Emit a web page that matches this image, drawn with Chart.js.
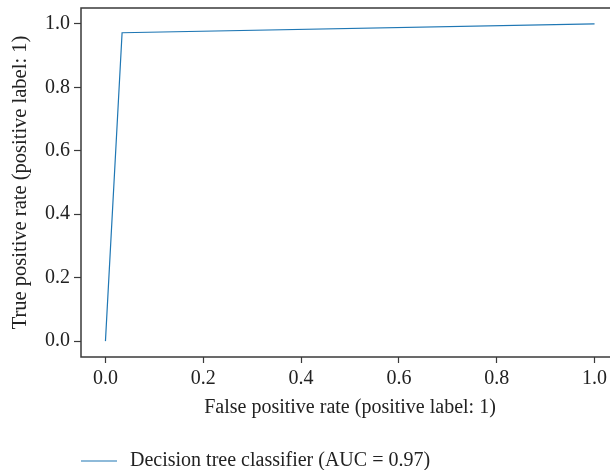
<!DOCTYPE html>
<html>
<head>
<meta charset="utf-8">
<script src="https://cdn.jsdelivr.net/npm/chart.js@4/dist/chart.umd.min.js"></script>
<style>
  html, body { margin: 0; padding: 0; background: #fff; overflow: hidden; }
  #wrap { position: relative; width: 640px; height: 470px; }
</style>
</head>
<body>
<div id="wrap"><canvas id="roc"></canvas></div>
<script>
// ROC curve points
const fpr = [0.0, 0.034, 1.0];
const tpr = [0.0, 0.972, 1.0];
const tickValues = [0.0, 0.2, 0.4, 0.6, 0.8, 1.0];
const seriesLabel = 'Decision tree classifier (AUC = 0.97)';

const serif = "'Liberation Serif', 'DejaVu Serif', serif";
const spineColor = '#3a3a3a';
const textColor = '#222';

// box around the plot area
const frame = {
    id: 'frame',
    afterDatasetsDraw(chart) {
        const a = chart.chartArea, ctx = chart.ctx;
        ctx.save();
        ctx.strokeStyle = spineColor;
        ctx.lineWidth = 1.5;
        ctx.strokeRect(a.left, a.top, a.right - a.left, a.bottom - a.top);
        ctx.restore();
    }
};

// legend below the axes, left aligned with the plot
const legendBelow = {
    id: 'legendBelow',
    afterDraw(chart) {
        const ctx = chart.ctx, ds = chart.data.datasets[0];
        const x = chart.chartArea.left, y = 461;
        ctx.save();
        ctx.strokeStyle = ds.borderColor;
        ctx.lineWidth = 1.2;
        ctx.beginPath();
        ctx.moveTo(x, y);
        ctx.lineTo(x + 36, y);
        ctx.stroke();
        ctx.fillStyle = textColor;
        ctx.font = '20px ' + serif;
        ctx.textBaseline = 'middle';
        ctx.fillText(ds.label, x + 49, y);
        ctx.restore();
    }
};

const fixedTicks = scale => { scale.ticks = tickValues.map(v => ({ value: v })); };

new Chart(document.getElementById('roc'), {
    type: 'line',
    data: {
        datasets: [{
            label: seriesLabel,
            data: fpr.map((x, i) => ({ x: x, y: tpr[i] })),
            borderColor: '#1f77b4',
            borderWidth: 1.2,
            pointRadius: 0,
            fill: false,
            tension: 0
        }]
    },
    options: {
        responsive: true,
        maintainAspectRatio: false,
        animation: false,
        layout: { padding: { left: 0, right: 21, top: 8, bottom: 41 } },
        plugins: { legend: { display: false }, tooltip: { enabled: false } },
        scales: {
            x: {
                type: 'linear',
                min: -0.05,
                max: 1.05,
                afterBuildTicks: fixedTicks,
                afterFit: s => { s.height = 72; s.paddingLeft = 0; s.paddingRight = 0; },
                border: { display: false },
                grid: { drawOnChartArea: false, drawTicks: true, tickLength: 6, tickColor: spineColor, tickWidth: 1.2 },
                ticks: {
                    color: textColor, font: { family: serif, size: 20 }, padding: 4,
                    maxRotation: 0, callback: v => v.toFixed(1)
                },
                title: {
                    display: true, text: 'False positive rate (positive label: 1)',
                    color: textColor, font: { family: serif, size: 20 }, padding: { top: 0, bottom: 9 }
                }
            },
            y: {
                type: 'linear',
                min: -0.05,
                max: 1.05,
                afterBuildTicks: fixedTicks,
                afterFit: s => { s.width = 81; s.paddingTop = 0; s.paddingBottom = 0; },
                border: { display: false },
                grid: { drawOnChartArea: false, drawTicks: true, tickLength: 7, tickColor: spineColor, tickWidth: 1.2 },
                ticks: {
                    color: textColor, font: { family: serif, size: 20 }, padding: 4,
                    callback: v => v.toFixed(1)
                },
                title: {
                    display: true, text: 'True positive rate (positive label: 1)',
                    color: textColor, font: { family: serif, size: 20.5 }, padding: { top: 8, bottom: 0 }
                }
            }
        }
    },
    plugins: [frame, legendBelow]
});
</script>
</body>
</html>
